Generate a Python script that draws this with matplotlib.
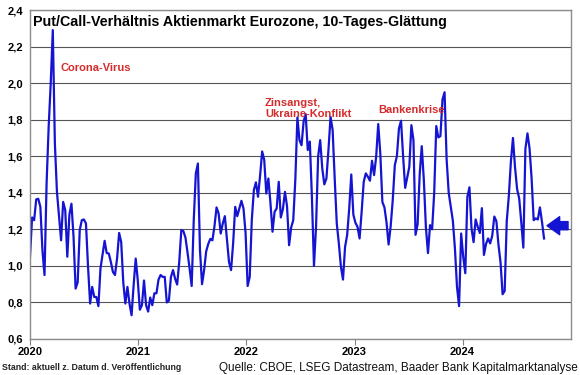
import matplotlib
matplotlib.use("Agg")
import matplotlib.pyplot as plt
import pandas as pd

plt.rcParams['font.family'] = ['Liberation Sans', 'DejaVu Sans']

# weekly put/call ratio (10-day smoothed), starting 2020-01-01
values = [
    1.05, 1.265, 1.25, 1.364, 1.367, 1.323, 1.086, 0.95, 1.45, 1.76,
    2.0, 2.29, 1.67, 1.405, 1.27, 1.14, 1.35, 1.305, 1.05, 1.28,
    1.34, 1.16, 0.876, 0.91, 1.196, 1.25, 1.254, 1.232, 0.995, 0.794,
    0.885, 0.83, 0.83, 0.78, 0.986, 1.06, 1.137, 1.07, 1.068, 1.022,
    0.967, 0.95, 1.04, 1.18, 1.13, 0.91, 0.794, 0.885, 0.794, 0.73,
    0.895, 1.04, 0.92, 0.76, 0.785, 0.92, 0.785, 0.75, 0.827, 0.785,
    0.85, 0.85, 0.925, 0.95, 0.94, 0.94, 0.80, 0.81, 0.94, 0.977,
    0.93, 0.898, 1.022, 1.196, 1.19, 1.155, 1.073, 0.986, 0.89, 1.25,
    1.506, 1.56, 1.086, 0.90, 0.977, 1.08, 1.12, 1.148, 1.14, 1.217,
    1.32, 1.287, 1.177, 1.232, 1.272, 1.15, 1.022, 0.977, 1.123, 1.323,
    1.272, 1.314, 1.356, 1.314, 1.18, 0.89, 0.94, 1.25, 1.415, 1.457,
    1.378, 1.493, 1.626, 1.58, 1.396, 1.478, 1.345, 1.187, 1.296, 1.314,
    1.46, 1.265, 1.31, 1.405, 1.327, 1.113, 1.21, 1.25, 1.47, 1.812,
    1.688, 1.66, 1.79, 1.83, 1.634, 1.68, 1.378, 1.0, 1.214, 1.597,
    1.688, 1.533, 1.446, 1.478, 1.637, 1.815, 1.743, 1.478, 1.232, 1.123,
    0.995, 0.925, 1.104, 1.168, 1.314, 1.5, 1.28, 1.236, 1.214, 1.15,
    1.296, 1.46, 1.506, 1.488, 1.466, 1.575, 1.497, 1.597, 1.776, 1.615,
    1.35, 1.32, 1.238, 1.117, 1.217, 1.36, 1.551, 1.60, 1.752, 1.794,
    1.60, 1.427, 1.484, 1.542, 1.77, 1.688, 1.17, 1.228, 1.50, 1.655,
    1.47, 1.21, 1.07, 1.223, 1.20, 1.40, 1.765, 1.703, 1.71, 1.91,
    1.95, 1.582, 1.40, 1.323, 1.247, 1.095, 0.885, 0.78, 1.177, 1.05,
    0.96, 1.378, 1.43, 1.205, 1.13, 1.254, 1.214, 1.18, 1.316, 1.06,
    1.12, 1.15, 1.123, 1.165, 1.27, 1.245, 1.117, 1.02, 0.845, 0.863,
    1.245, 1.382, 1.57, 1.70, 1.539, 1.42, 1.369, 1.24, 1.10, 1.64,
    1.725, 1.643, 1.477, 1.25, 1.26, 1.254, 1.32, 1.241, 1.15,
]
start_date = "2020-01-01"
dates = pd.date_range(start_date, periods=len(values), freq="7D")

y_ticks = [0.6, 0.8, 1.0, 1.2, 1.4, 1.6, 1.8, 2.0, 2.2, 2.4]
y_tick_labels = ["0,6", "0,8", "1,0", "1,2", "1,4", "1,6", "1,8", "2,0", "2,2", "2,4"]
x_years = ["2020", "2021", "2022", "2023", "2024"]

annotations = [
    ("Corona-Virus", "2020-04-12", 2.11),
    ("Zinsangst,\nUkraine-Konflikt", "2022-03-05", 1.92),
    ("Bankenkrise", "2023-03-22", 1.88),
]
current_value = 1.22
arrow_tip_date = "2024-10-12"
arrow_tail_date = "2024-12-22"

title = "Put/Call-Verhältnis Aktienmarkt Eurozone, 10-Tages-Glättung"
note_left = "Stand: aktuell z. Datum d. Veröffentlichung"
note_right = "Quelle: CBOE, LSEG Datastream, Baader Bank Kapitalmarktanalyse"

blue = "#1414d2"
red = "#d52b2b"

fig = plt.figure(figsize=(5.8, 3.75), dpi=100)
ax = fig.add_axes([30 / 580, 1 - 339 / 375, 541 / 580, 329 / 375])

ax.plot(dates, values, color=blue, linewidth=1.6, solid_joinstyle="round")

ax.set_ylim(0.6, 2.4)
ax.set_xlim(pd.Timestamp("2020-01-01"), pd.Timestamp("2025-01-01"))
ax.set_yticks(y_ticks)
ax.set_yticklabels(y_tick_labels, fontweight="bold", fontsize=8)
ax.set_xticks([pd.Timestamp(y + "-01-01") for y in x_years])
ax.set_xticklabels(x_years, fontweight="bold", fontsize=8)
ax.tick_params(axis="y", length=0, pad=5)
ax.tick_params(axis="x", length=4, color="#808080", pad=1.5)
ax.grid(axis="y", color="#555555", linewidth=0.8)
ax.set_axisbelow(True)
for s in ax.spines.values():
    s.set_color("#8c8c8c")
    s.set_linewidth(1.0)

ax.text(0.006, 0.985, title, transform=ax.transAxes, ha="left", va="top",
        fontsize=10.3, fontweight="bold")

for txt, d, v in annotations:
    ax.text(pd.Timestamp(d), v, txt, color=red, fontsize=8, fontweight="bold",
            ha="left", va="top", linespacing=1.15)

ax.annotate("", xy=(pd.Timestamp(arrow_tip_date), current_value),
            xytext=(pd.Timestamp(arrow_tail_date), current_value),
            arrowprops=dict(arrowstyle="simple,head_length=0.7,head_width=1.0,tail_width=0.45",
                            color=blue, shrinkA=0, shrinkB=0, mutation_scale=13))

fig.text(2 / 580, 1 - 368 / 375, note_left, fontsize=6.3, fontweight="bold",
         ha="left", va="center", color="#222222")
fig.text(578 / 580, 1 - 368 / 375, note_right, fontsize=8.5,
         ha="right", va="center", color="#111111")

fig.savefig("out.png", dpi=100)
